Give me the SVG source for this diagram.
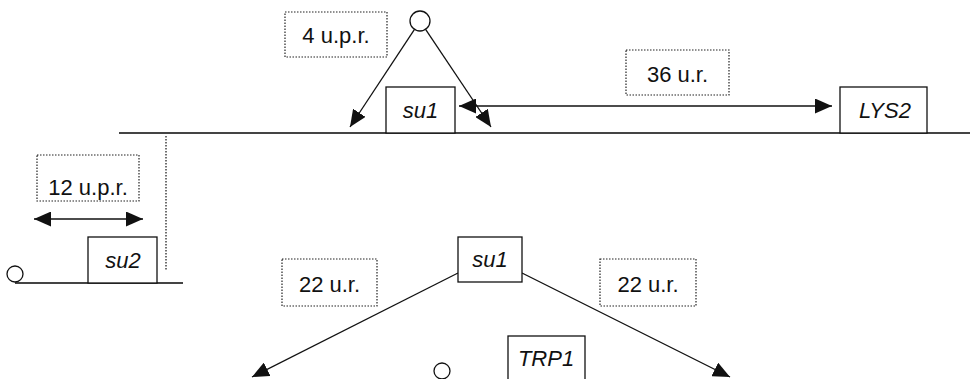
<svg xmlns="http://www.w3.org/2000/svg" width="970" height="379" viewBox="0 0 970 379">
<style>
.box{fill:#fff;stroke:#111;stroke-width:1.3}
.dot{fill:#fff;stroke:#222;stroke-width:1.2;stroke-dasharray:1.5 1.5}
.lbl{font-family:"Liberation Sans",Arial,sans-serif;font-size:22px;fill:#111;text-anchor:middle}
.it{font-style:italic}
.ln{stroke:#111;stroke-width:1.3;fill:none}
.axis{stroke:#444;stroke-width:2;fill:none}
.circ{fill:#fff;stroke:#111;stroke-width:1.3}
</style>
<defs>
<marker id="ah" markerUnits="userSpaceOnUse" markerWidth="17" markerHeight="15" refX="17" refY="7.5" orient="auto-start-reverse" viewBox="0 0 17 15">
<path d="M0,0 L17,7.5 L0,15 z" fill="#111"/>
</marker>
</defs>
<g id="axes">
<line class="axis" x1="119" y1="133" x2="970" y2="133"/>
<line class="axis" x1="15" y1="283" x2="183" y2="283" stroke-width="1.6"/>
<line x1="166" y1="136" x2="166" y2="270" stroke="#222" stroke-width="1.3" stroke-dasharray="1.5 1.5"/>
</g>
<g id="connectors">
<line class="ln" x1="414.5" y1="29.3" x2="350" y2="127" marker-end="url(#ah)"/>
<line class="ln" x1="425.6" y1="29.3" x2="491" y2="127" marker-end="url(#ah)"/>
<line class="ln" x1="459" y1="106" x2="832" y2="106" marker-start="url(#ah)" marker-end="url(#ah)"/>
<line class="ln" x1="34" y1="219" x2="143" y2="219" marker-start="url(#ah)" marker-end="url(#ah)"/>
<line class="ln" x1="458" y1="273" x2="252" y2="377" marker-end="url(#ah)"/>
<line class="ln" x1="522" y1="273" x2="730" y2="377" marker-end="url(#ah)"/>
</g>
<g id="circle-top"><circle class="circ" cx="420" cy="21" r="10"/></g>
<g id="circle-left"><circle class="circ" cx="15" cy="274" r="8"/></g>
<g id="circle-bottom"><circle class="circ" cx="442" cy="371" r="8"/></g>
<g id="label-4upr"><rect class="dot" x="285" y="12" width="102" height="45"/><text class="lbl" x="336" y="43">4 u.p.r.</text></g>
<g id="label-36ur"><rect class="dot" x="626" y="50" width="103" height="45"/><text class="lbl" x="677.5" y="82">36 u.r.</text></g>
<g id="label-12upr"><rect class="dot" x="37" y="155" width="102" height="46"/><text class="lbl" x="88" y="195">12 u.p.r.</text></g>
<g id="label-22ur-left"><rect class="dot" x="282" y="259" width="95" height="47"/><text class="lbl" x="329.5" y="292">22 u.r.</text></g>
<g id="label-22ur-right"><rect class="dot" x="600" y="259" width="96" height="47"/><text class="lbl" x="648" y="292">22 u.r.</text></g>
<g id="su1-top"><rect class="box" x="386" y="87" width="69" height="46"/><text class="lbl it" x="420.5" y="118">su1</text></g>
<g id="lys2"><rect class="box" x="840" y="87" width="87" height="46"/><text class="lbl it" x="885" y="118">LYS2</text></g>
<g id="su2"><rect class="box" x="88" y="237" width="69" height="46"/><text class="lbl it" x="123" y="268">su2</text></g>
<g id="su1-bottom"><rect class="box" x="458" y="237" width="64" height="45"/><text class="lbl it" x="490" y="267">su1</text></g>
<g id="trp1"><rect class="box" x="508" y="336" width="77" height="50"/><text class="lbl it" x="546" y="366">TRP1</text></g>
</svg>
